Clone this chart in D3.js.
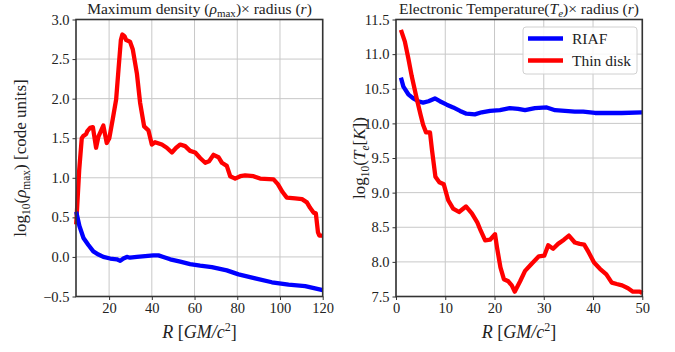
<!DOCTYPE html>
<html>
<head>
<meta charset="utf-8">
<script src="https://cdn.jsdelivr.net/npm/d3@7"></script>
<style>
  body { margin: 0; background: #fff; }
  svg text { font-family: "Liberation Serif", "DejaVu Serif", serif; fill: #222; }
</style>
</head>
<body>
<svg id="chart" width="675" height="352"></svg>
<script>
// left panel: max density vs radius
const rhoDiskR = [4.6, 6.0, 7.2, 8.0, 9.2, 9.8, 11.1, 12.4, 13.9, 15.0, 17.3, 18.9, 20.1, 21.7, 23.3, 24.4, 25.5, 26.2, 27.2, 28.0, 29.8, 31.1, 33.0, 34.5, 36.4, 38.4, 40.0, 41.5, 44.7, 47.0, 49.4, 51.4, 53.3, 55.6, 57.9, 60.3, 62.6, 65.0, 66.8, 68.9, 71.2, 72.8, 75.1, 76.7, 79.0, 81.4, 83.7, 87.6, 90.7, 97.0, 99.0, 101.2, 103.2, 107.1, 110.3, 112.6, 114.1, 115.7, 116.8, 117.8, 118.4, 120];
const rhoDisk = [0.41, 1.10, 1.50, 1.53, 1.55, 1.59, 1.63, 1.64, 1.38, 1.52, 1.66, 1.44, 1.50, 1.74, 1.99, 2.37, 2.74, 2.81, 2.79, 2.74, 2.72, 2.62, 2.32, 1.95, 1.65, 1.60, 1.42, 1.45, 1.42, 1.38, 1.32, 1.38, 1.42, 1.40, 1.34, 1.32, 1.25, 1.19, 1.21, 1.29, 1.26, 1.19, 1.15, 1.02, 0.99, 1.02, 1.03, 1.02, 0.99, 0.98, 0.92, 0.82, 0.75, 0.74, 0.73, 0.69, 0.62, 0.56, 0.55, 0.31, 0.27, 0.27];
const rhoRiafR = [4.6, 6.1, 8.0, 10.3, 12.6, 15.0, 17.3, 20.5, 23.6, 25.2, 26.7, 28.3, 29.8, 33.0, 36.9, 40.7, 43.1, 45.4, 48.6, 53.3, 57.9, 62.6, 68.1, 75.1, 80.6, 88.4, 96.2, 104.0, 111.8, 120];
const rhoRiaf = [0.57, 0.39, 0.24, 0.15, 0.07, 0.03, 0.00, -0.02, -0.03, -0.05, -0.02, 0.00, -0.01, 0.00, 0.01, 0.02, 0.02, 0.00, -0.03, -0.06, -0.09, -0.11, -0.13, -0.17, -0.22, -0.27, -0.32, -0.35, -0.37, -0.42];

// right panel: electron temperature vs radius
const teDiskR = [1.0, 1.8, 2.5, 3.2, 4.2, 5.0, 5.5, 6.1, 6.9, 7.3, 8.0, 8.8, 9.7, 10.6, 11.6, 12.8, 14.2, 15.4, 16.5, 17.2, 18.1, 19.1, 20.1, 20.5, 21.2, 21.9, 22.8, 23.5, 24.1, 25.2, 26.2, 27.5, 29.0, 30.1, 30.9, 31.9, 32.9, 34.1, 35.1, 36.3, 37.3, 38.2, 39.1, 40.2, 41.4, 42.7, 43.8, 44.8, 45.9, 47.1, 48.1, 49.5, 50];
const teDisk = [11.35, 11.18, 10.94, 10.68, 10.36, 10.12, 9.98, 9.87, 9.87, 9.62, 9.23, 9.15, 9.12, 8.89, 8.77, 8.72, 8.80, 8.70, 8.57, 8.45, 8.31, 8.32, 8.40, 8.21, 7.92, 7.75, 7.72, 7.66, 7.57, 7.72, 7.87, 7.97, 8.08, 8.09, 8.24, 8.19, 8.26, 8.32, 8.38, 8.28, 8.26, 8.25, 8.14, 7.99, 7.90, 7.82, 7.70, 7.68, 7.66, 7.62, 7.57, 7.57, 7.55];
const teRiafR = [1.0, 1.5, 2.5, 3.5, 4.5, 5.5, 6.6, 7.9, 8.9, 10.3, 11.6, 13.0, 14.3, 16.0, 17.4, 19.1, 21.1, 23.1, 24.8, 26.2, 28.2, 30.6, 32.3, 34.3, 36.3, 38.0, 40.4, 43.1, 45.8, 50];
const teRiaf = [10.66, 10.53, 10.42, 10.36, 10.32, 10.30, 10.32, 10.36, 10.32, 10.27, 10.23, 10.18, 10.14, 10.13, 10.16, 10.18, 10.19, 10.22, 10.21, 10.19, 10.22, 10.23, 10.19, 10.18, 10.17, 10.17, 10.15, 10.15, 10.15, 10.16];

const rhoXTicks = [20, 40, 60, 80, 100, 120];
const rhoYTicks = [-0.5, 0.0, 0.5, 1.0, 1.5, 2.0, 2.5, 3.0];
const teXTicks = [0, 10, 20, 30, 40, 50];
const teYTicks = [7.5, 8.0, 8.5, 9.0, 9.5, 10.0, 10.5, 11.0, 11.5];

const legendNames = ['RIAF', 'Thin disk'];
const colors = { riaf: '#0000ff', disk: '#ff0000' };

const serif = '"Liberation Serif", "DejaVu Serif", serif';
const svg = d3.select('#chart');

function panel(opt) {
  const x = d3.scaleLinear().domain(opt.xDomain).range([opt.left, opt.right]);
  const y = d3.scaleLinear().domain(opt.yDomain).range([opt.bottom, opt.top]);
  const g = svg.append('g');

  // grid
  g.append('g').selectAll('line').data(opt.xTicks).join('line')
    .attr('x1', d => x(d)).attr('x2', d => x(d))
    .attr('y1', opt.top).attr('y2', opt.bottom)
    .attr('stroke', '#c8c8c8').attr('stroke-width', 1);
  g.append('g').selectAll('line').data(opt.yTicks).join('line')
    .attr('y1', d => y(d)).attr('y2', d => y(d))
    .attr('x1', opt.left).attr('x2', opt.right)
    .attr('stroke', '#c8c8c8').attr('stroke-width', 1);

  // data lines
  const line = d3.line().x(d => x(d[0])).y(d => y(d[1]));
  opt.series.forEach(s => {
    g.append('path')
      .datum(d3.zip(s.xs, s.ys))
      .attr('d', line)
      .attr('fill', 'none')
      .attr('stroke', s.color)
      .attr('stroke-width', 4.3)
      .attr('stroke-linejoin', 'round');
  });

  // axes
  const fmtY = d => (d < 0 ? '\u2212' : '') + Math.abs(d).toFixed(1);
  const xAxis = d3.axisBottom(x).tickValues(opt.xTicks).tickSize(3.5).tickPadding(3)
    .tickFormat(d3.format('d'));
  const yAxis = d3.axisLeft(y).tickValues(opt.yTicks).tickSize(3.5).tickPadding(3)
    .tickFormat(fmtY);
  const gx = g.append('g').attr('transform', `translate(0,${opt.bottom})`).call(xAxis);
  const gy = g.append('g').attr('transform', `translate(${opt.left},0)`).call(yAxis);
  [gx, gy].forEach(a => {
    a.attr('font-family', serif).attr('font-size', 14.5);
    a.select('.domain').remove();
    a.selectAll('line').attr('stroke', '#333');
    a.selectAll('text').attr('fill', '#222')
      .attr('font-family', serif).style('font-family', serif);
  });

  // frame
  g.append('rect')
    .attr('x', opt.left).attr('y', opt.top)
    .attr('width', opt.right - opt.left).attr('height', opt.bottom - opt.top)
    .attr('fill', 'none').attr('stroke', '#333').attr('stroke-width', 1.6);

  return { x, y, g };
}

// ---------- left ----------
panel({
  left: 76, right: 322.7, top: 19.5, bottom: 296.5,
  xDomain: [4.5, 120], yDomain: [-0.5, 3.0],
  xTicks: rhoXTicks, yTicks: rhoYTicks,
  series: [
    { xs: rhoDiskR, ys: rhoDisk, color: colors.disk },
    { xs: rhoRiafR, ys: rhoRiaf, color: colors.riaf }
  ]
});

// ---------- right ----------
panel({
  left: 396, right: 642.3, top: 19.5, bottom: 296.5,
  xDomain: [0, 50], yDomain: [7.5, 11.5],
  xTicks: teXTicks, yTicks: teYTicks,
  series: [
    { xs: teRiafR, ys: teRiaf, color: colors.riaf },
    { xs: teDiskR, ys: teDisk, color: colors.disk }
  ]
});

// titles
const t1 = svg.append('text').attr('x', 199.5).attr('y', 14).attr('text-anchor', 'middle').attr('font-size', 15.5);
t1.append('tspan').text('Maximum density (');
t1.append('tspan').attr('font-style', 'italic').text('\u03c1');
t1.append('tspan').attr('font-size', 11).attr('dy', 3).text('max');
t1.append('tspan').attr('dy', -3).text(')\u00d7 radius (');
t1.append('tspan').attr('font-style', 'italic').text('r');
t1.append('tspan').text(')');

const t2 = svg.append('text').attr('x', 519).attr('y', 14).attr('text-anchor', 'middle').attr('font-size', 15.5);
t2.append('tspan').text('Electronic Temperature(');
t2.append('tspan').attr('font-style', 'italic').text('T');
t2.append('tspan').attr('font-style', 'italic').attr('font-size', 11).attr('dy', 3).text('e');
t2.append('tspan').attr('dy', -3).text(')\u00d7 radius (');
t2.append('tspan').attr('font-style', 'italic').text('r');
t2.append('tspan').text(')');

// x labels
function xLabel(cx) {
  const t = svg.append('text').attr('x', cx).attr('y', 338).attr('text-anchor', 'middle').attr('font-size', 18);
  t.append('tspan').attr('font-style', 'italic').text('R');
  t.append('tspan').text(' [');
  t.append('tspan').attr('font-style', 'italic').text('GM/c');
  t.append('tspan').attr('font-size', 12).attr('dy', -7).text('2');
  t.append('tspan').attr('dy', 7).text(']');
}
xLabel(199.5);
xLabel(519);

// y labels
const y1 = svg.append('text').attr('transform', 'translate(26,158) rotate(-90)')
  .attr('text-anchor', 'middle').attr('font-size', 17);
y1.append('tspan').text('log');
y1.append('tspan').attr('font-size', 11.5).attr('dy', 4).text('10');
y1.append('tspan').attr('dy', -4).text('(');
y1.append('tspan').attr('font-style', 'italic').text('\u03c1');
y1.append('tspan').attr('font-size', 11.5).attr('dy', 4).text('max');
y1.append('tspan').attr('dy', -4).text(') [code units]');

const y2 = svg.append('text').attr('transform', 'translate(365,158) rotate(-90)')
  .attr('text-anchor', 'middle').attr('font-size', 17);
y2.append('tspan').text('log');
y2.append('tspan').attr('font-size', 11.5).attr('dy', 4).text('10');
y2.append('tspan').attr('dy', -4).text('(');
y2.append('tspan').attr('font-style', 'italic').text('T');
y2.append('tspan').attr('font-style', 'italic').attr('font-size', 11.5).attr('dy', 4).text('e');
y2.append('tspan').attr('dy', -4).text('[');
y2.append('tspan').attr('font-style', 'italic').text('K');
y2.append('tspan').text('])');

// legend
const lg = svg.append('g').attr('transform', 'translate(523,27)');
lg.append('rect').attr('width', 114).attr('height', 47).attr('rx', 3)
  .attr('fill', '#fff').attr('fill-opacity', 0.85).attr('stroke', '#d0d0d0');
const legendColors = [colors.riaf, colors.disk];
const items = lg.selectAll('g.item').data(legendNames).join('g')
  .attr('class', 'item')
  .attr('transform', (d, i) => `translate(0,${11.5 + i * 22})`);
items.append('line').attr('x1', 5).attr('x2', 40).attr('y1', 0).attr('y2', 0)
  .attr('stroke', (d, i) => legendColors[i]).attr('stroke-width', 4.3);
items.append('text').attr('x', 49).attr('y', 5).attr('font-size', 15.5).text(d => d);
</script>
</body>
</html>
